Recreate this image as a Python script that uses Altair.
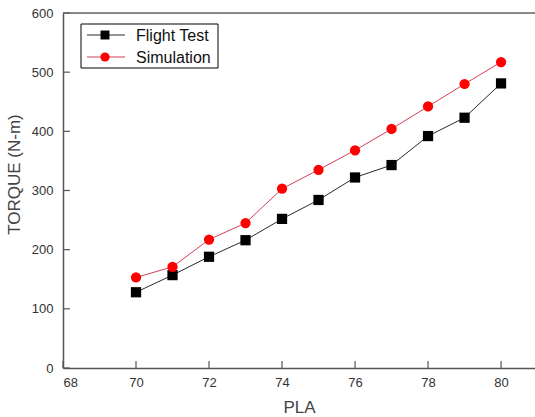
import altair as alt
import pandas as pd

# PLA setting vs. engine torque
pla = [70, 71, 72, 73, 74, 75, 76, 77, 78, 79, 80]
flight_test = [128, 157, 188, 216, 252, 284, 322, 343, 392, 423, 481]
simulation = [153, 171, 217, 245, 303, 335, 368, 404, 442, 480, 517]

x_ticks = [68, 70, 72, 74, 76, 78, 80]
y_ticks = [0, 100, 200, 300, 400, 500, 600]

W, H = 472, 355
FONT = "Liberation Sans"

df = pd.concat([
    pd.DataFrame({"PLA": pla, "Torque": flight_test, "Series": "Flight Test"}),
    pd.DataFrame({"PLA": pla, "Torque": simulation, "Series": "Simulation"}),
])

xs = alt.Scale(domain=[68, 80.93], nice=False, zero=False)
ys = alt.Scale(domain=[0, 600], nice=False)

styles = {
    "Flight Test": dict(line="#2a2a2a", fill="#000000", shape="square", size=105, lsize=80),
    "Simulation": dict(line="#d2405a", fill="#ff0000", shape="circle", size=105, lsize=85),
}

base = alt.Chart(df)

x_enc = alt.X(
    "PLA:Q", scale=xs,
    axis=alt.Axis(
        values=x_ticks, tickSize=0, grid=False, labelPadding=8,
        labelFontSize=13, labelColor="#333333", labelFont=FONT,
        domainColor="#555555", domainWidth=1.5,
        title="PLA", titleFont=FONT, titleFontSize=17, titleFontWeight="normal",
        titleColor="#444444", titleBaseline="alphabetic", titleY=44,
    ),
)
y_enc = alt.Y(
    "Torque:Q", scale=ys,
    axis=alt.Axis(
        values=y_ticks, tickSize=0, grid=False, labelPadding=10,
        labelFontSize=13, labelColor="#333333", labelFont=FONT,
        domainColor="#555555", domainWidth=1.5,
        title="TORQUE (N-m)", titleFont=FONT, titleFontSize=17, titleFontWeight="normal",
        titleColor="#444444", titleAngle=270, titleBaseline="middle", titleAlign="center",
        titleX=-49, titleY=161,
    ),
)

layers = []
for name, st in styles.items():
    sub = base.transform_filter(alt.datum.Series == name)
    layers.append(sub.mark_line(color=st["line"], strokeWidth=1).encode(x=x_enc, y=y_enc))
for name, st in styles.items():
    sub = base.transform_filter(alt.datum.Series == name)
    layers.append(sub.mark_point(shape=st["shape"], filled=True, color=st["fill"],
                                 size=st["size"], opacity=1).encode(x="PLA:Q", y="Torque:Q"))

# inward tick marks
xt = alt.Chart(pd.DataFrame({"v": x_ticks})).mark_rule(color="#555555", strokeWidth=1.2).encode(
    x=alt.X("v:Q", scale=xs), y=alt.value(H), y2=alt.value(H - 7))
yt = alt.Chart(pd.DataFrame({"v": y_ticks})).mark_rule(color="#555555", strokeWidth=1.2).encode(
    y=alt.Y("v:Q", scale=ys), x=alt.value(0), x2=alt.value(7))
# top frame line
top = alt.Chart(pd.DataFrame({"a": [0]})).mark_rule(color="#666666", strokeWidth=1.5).encode(
    x=alt.value(0), x2=alt.value(W), y=alt.value(0))

# legend box
leg_df = pd.DataFrame({"a": [0]})
legend = [alt.Chart(leg_df).mark_rect(fill="white", stroke="#000000", strokeWidth=1).encode(
    x=alt.value(18), x2=alt.value(155), y=alt.value(11), y2=alt.value(55))]
for i, (name, st) in enumerate(styles.items()):
    yy = 22 + 22 * i
    ldf = pd.DataFrame({"label": [name]})
    legend.append(alt.Chart(ldf).mark_rule(color=st["line"], strokeWidth=1).encode(
        x=alt.value(24), x2=alt.value(62), y=alt.value(yy)))
    legend.append(alt.Chart(ldf).mark_point(shape=st["shape"], filled=True, color=st["fill"],
                                            size=st["lsize"], opacity=1).encode(
        x=alt.value(42), y=alt.value(yy)))
    legend.append(alt.Chart(ldf).mark_text(align="left", baseline="middle", font=FONT,
                                           fontSize=16, color="#111111").encode(
        x=alt.value(73), y=alt.value(yy + 1), text="label:N"))

chart = alt.layer(*layers, xt, yt, top, *legend).properties(
    width=W, height=H,
    autosize=alt.AutoSizeParams(type="none"),
    padding={"left": 63, "top": 13, "right": 0, "bottom": 49},
).configure_view(stroke=None).configure(background="white")

chart.save("out.html", embed_options={"renderer": "svg", "actions": False})
